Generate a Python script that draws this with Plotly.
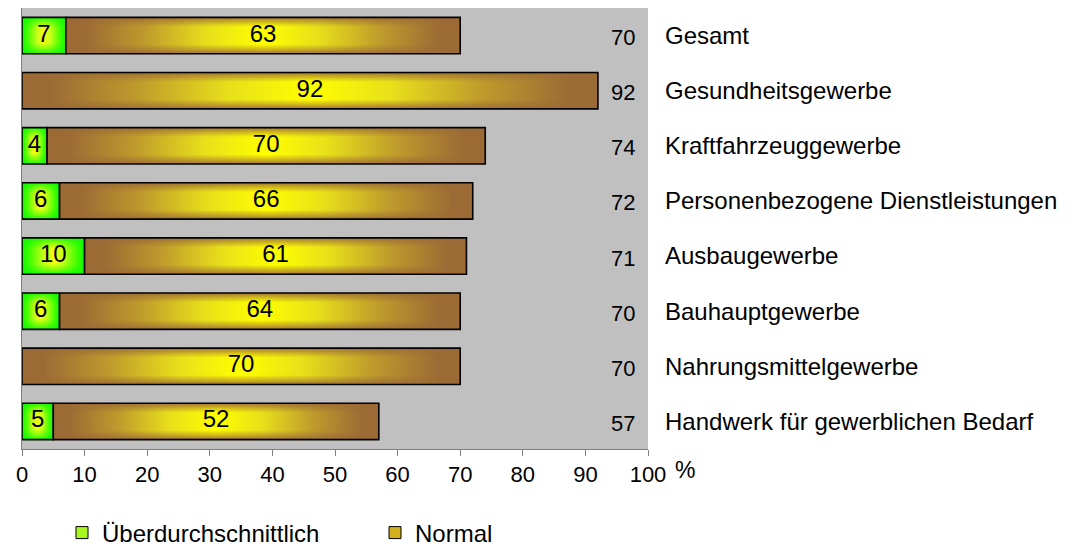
import plotly.graph_objects as go

categories = [
    "Gesamt",
    "Gesundheitsgewerbe",
    "Kraftfahrzeuggewerbe",
    "Personenbezogene Dienstleistungen",
    "Ausbaugewerbe",
    "Bauhauptgewerbe",
    "Nahrungsmittelgewerbe",
    "Handwerk für gewerblichen Bedarf",
]
ueber = [7, 0, 4, 6, 10, 6, 0, 5]
normal = [63, 92, 70, 66, 61, 64, 70, 52]
totals = [70, 92, 74, 72, 71, 70, 70, 57]
x_ticks = list(range(0, 101, 10))
series_names = ["Überdurchschnittlich", "Normal"]

BAR_H = 0.66
FONT = "Liberation Sans, Arial, sans-serif"

# horizontal (length-wise) gradients, edge -> centre -> edge
NORMAL_H = [[0, "#9c6b35"], [0.05, "#9c6b35"], [0.2, "#bf9a2c"], [0.36, "#e8e01a"],
            [0.5, "#ffff00"], [0.64, "#e8e01a"], [0.8, "#bf9a2c"], [0.95, "#9c6b35"],
            [1, "#9c6b35"]]
GREEN_H = [[0, "#10f800"], [0.12, "#40ff00"], [0.35, "#c8ff18"], [0.5, "#f4ff10"],
           [0.65, "#c8ff18"], [0.88, "#40ff00"], [1, "#10f800"]]
# vertical overlays darkening the top and bottom edges
NORMAL_V = [[0, "rgba(156,107,53,0.95)"], [0.1, "rgba(156,107,53,0.55)"],
            [0.26, "rgba(156,107,53,0)"], [0.74, "rgba(156,107,53,0)"],
            [0.9, "rgba(156,107,53,0.55)"], [1, "rgba(156,107,53,0.95)"]]
GREEN_V = [[0, "rgba(16,248,0,0.95)"], [0.12, "rgba(16,248,0,0.5)"],
           [0.3, "rgba(16,248,0,0)"], [0.7, "rgba(16,248,0,0)"],
           [0.88, "rgba(16,248,0,0.5)"], [1, "rgba(16,248,0,0.95)"]]

fig = go.Figure()


def add_segment(x0, value, yi, hscale, vscale):
    h = BAR_H / 2
    x1 = x0 + value
    xs = [x0, x1, x1, x0, x0]
    ys = [yi - h, yi - h, yi + h, yi + h, yi - h]
    fig.add_trace(go.Scatter(
        x=xs, y=ys, mode="lines", fill="toself",
        fillgradient=dict(type="horizontal", colorscale=hscale),
        line=dict(width=0, color="rgba(0,0,0,0)"),
        showlegend=False, hoverinfo="skip",
    ))
    fig.add_trace(go.Scatter(
        x=xs, y=ys, mode="lines", fill="toself",
        fillgradient=dict(type="vertical", colorscale=vscale),
        line=dict(color="#000000", width=1.6),
        showlegend=False, hoverinfo="skip",
    ))


lx, ly, lt = [], [], []
for i in range(len(categories)):
    if ueber[i] > 0:
        add_segment(0, ueber[i], i, GREEN_H, GREEN_V)
        lx.append(ueber[i] / 2); ly.append(i); lt.append(str(ueber[i]))
    add_segment(ueber[i], normal[i], i, NORMAL_H, NORMAL_V)
    lx.append(ueber[i] + normal[i] / 2); ly.append(i); lt.append(str(normal[i]))

fig.add_trace(go.Scatter(
    x=lx, y=ly, text=lt, mode="text",
    textfont=dict(family=FONT, size=24, color="black"),
    textposition="middle center", showlegend=False, hoverinfo="skip",
))

# legend entries
fig.add_trace(go.Bar(x=[None], y=[None], name=series_names[0], orientation="h",
                     marker=dict(color="#a8f820", line=dict(color="#000", width=1)),
                     yaxis="y2", legend="legend"))
fig.add_trace(go.Bar(x=[None], y=[None], name=series_names[1], orientation="h",
                     marker=dict(color="#d2b020", line=dict(color="#000", width=1)),
                     yaxis="y2", legend="legend2"))

annotations = []
for i, t in enumerate(totals):
    annotations.append(dict(
        x=1, xref="paper", y=i, yref="y", text=str(t), xanchor="right", yanchor="middle",
        xshift=-11, yshift=-2, showarrow=False, font=dict(family=FONT, size=22, color="black"),
    ))
annotations.append(dict(
    x=1, xref="paper", y=0, yref="paper", text="%", xanchor="left", yanchor="middle",
    xshift=25, yshift=-21, showarrow=False, font=dict(family=FONT, size=23, color="black"),
))

# The page body adds an 8px offset; the figure keeps the window size and its
# last 8px simply fall outside the view.
W, H = 1069, 548
legend_common = dict(orientation="h", xref="container", yref="container",
                     xanchor="left", yanchor="middle", font=dict(size=24),
                     bgcolor="rgba(0,0,0,0)", borderwidth=0)

fig.update_layout(
    width=W, height=H,
    margin=dict(l=14, r=429, t=0, b=H - 441, autoexpand=False),
    paper_bgcolor="white", plot_bgcolor="#c0c0c0",
    font=dict(family=FONT, size=24, color="black"),
    xaxis=dict(range=[0, 100], tickvals=x_ticks, ticks="outside", ticklen=6,
               tickcolor="#808080", showline=True, linecolor="#808080", linewidth=1,
               showgrid=False, zeroline=False, tickfont=dict(size=22), fixedrange=True,
               automargin=False),
    yaxis=dict(range=[7.5, -0.5], tickvals=list(range(len(categories))), ticktext=categories,
               side="right", showgrid=False, zeroline=False, showline=False, ticks="",
               ticklabelstandoff=16, tickfont=dict(size=24), automargin=False),
    yaxis2=dict(overlaying="y", side="left", range=[7.5, -0.5], showline=True,
                linecolor="#808080", linewidth=1, showticklabels=False, showgrid=False,
                zeroline=False, ticks="", automargin=False),
    legend=dict(x=54 / W, y=1 - 525 / H, **legend_common),
    legend2=dict(x=367 / W, y=1 - 525 / H, **legend_common),
    showlegend=True,
    annotations=annotations,
)

fig.write_html("out.html")
